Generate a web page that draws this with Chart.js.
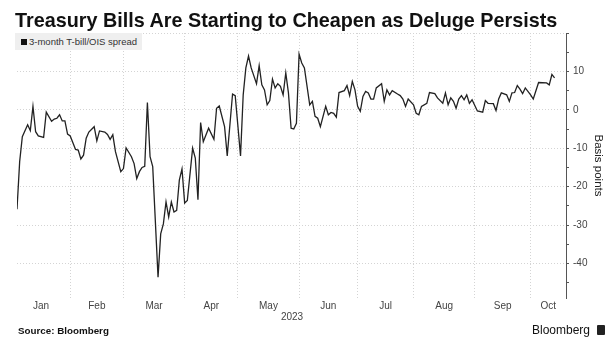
<!DOCTYPE html>
<html>
<head>
<meta charset="utf-8">
<script src="https://cdn.jsdelivr.net/npm/chart.js@4.4.0/dist/chart.umd.min.js"></script>
<style>
  html, body { margin: 0; padding: 0; background: #fff; }
  #wrap { position: relative; width: 616px; height: 347px; overflow: hidden; font-family: "Liberation Sans", Arial, sans-serif; }
  #chart { position: absolute; left: 0; top: 0; }
  #title { position: absolute; left: 15px; top: 9px; font-size: 19.8px; font-weight: bold; color: #111; white-space: nowrap; }
  #legend { position: absolute; left: 15px; top: 33px; width: 127px; height: 17px; background: #efefef; font-size: 9.5px; color: #333; line-height: 17px; white-space: nowrap; }
  #legend span.mark { display: inline-block; width: 6px; height: 6px; background: #111; margin: 0 2px 0 6px; vertical-align: 0px; }
  #year { position: absolute; left: 272px; top: 311px; width: 40px; text-align: center; font-size: 10px; color: #444; }
  #source { position: absolute; left: 18px; top: 325px; font-size: 9.8px; font-weight: bold; color: #111; }
  #brand { position: absolute; left: 532px; top: 323px; font-size: 12px; color: #111; }
  #logo { position: absolute; left: 597px; top: 325px; width: 8px; height: 10px; background: #222; border-radius: 1px; }
</style>
</head>
<body>
<div id="wrap">
  <canvas id="chart" width="616" height="347"></canvas>
  <div id="title"></div>
  <div id="legend"><span class="mark"></span><span id="legendText"></span></div>
  <div id="year"></div>
  <div id="source">Source: Bloomberg</div>
  <div id="brand">Bloomberg</div>
  <div id="logo"></div>
</div>
<script>
const chartTitle = 'Treasury Bills Are Starting to Cheapen as Deluge Persists';
const seriesName = '3-month T-bill/OIS spread';
const yearLabel = '2023';

// meses y posición (índice de día hábil) del primer día laborable de cada mes
const monthNames = ['Jan', 'Feb', 'Mar', 'Apr', 'May', 'Jun', 'Jul', 'Aug', 'Sep', 'Oct'];
const monthStarts = [0, 22, 42, 65, 85, 108, 130, 151, 174, 195];
const xStart = 2;
const xEnd = 208.3;

const yMajorTicks = [-40, -30, -20, -10, 0, 10, 20];
const yMinorTicks = [-45, -35, -25, -15, -5, 5, 15];
const yMin = -49;
const yMax = 20;

// índice de día hábil de cada observación (desde el 2 de enero)
const tradingDay = [
    2, 3, 4, 6, 7, 8, 9, 10, 12, 13, 15, 16, 17, 18, 19, 20, 21, 22, 24, 25,
    26, 27, 28, 29, 31, 32, 33, 35, 36, 37, 38, 39, 41, 42, 43, 45, 46, 47, 48, 49,
    50, 51, 52, 53, 55, 56, 57, 58, 59, 60, 61, 62, 63, 64, 65, 66, 68, 69, 70, 71,
    72, 74, 76, 77, 78, 80, 81, 83, 84, 86, 87, 88, 89, 90, 92, 93, 94, 95, 96, 97,
    98, 99, 100, 101, 102, 103, 104, 105, 106, 107, 108, 109, 110, 112, 113, 114, 115, 116, 118, 119,
    120, 121, 122, 123, 125, 126, 127, 128, 129, 130, 131, 132, 133, 134, 135, 136, 137, 139, 140, 141,
    142, 143, 145, 146, 147, 148, 149, 151, 152, 153, 154, 156, 157, 159, 160, 162, 163, 164, 165, 166,
    167, 168, 169, 170, 171, 172, 173, 175, 177, 178, 179, 181, 182, 183, 184, 186, 187, 188, 189, 190,
    191, 192, 193, 195, 196, 198, 201, 202, 203, 204
];

// diferencial en puntos básicos
const spread = [
    -25.9, -13.5, -7.0, -3.9, -5.4, 0.9, -5.7, -6.8, -7.2, -0.6, -3.0, -2.4, -2.2, -1.3, -2.9, -2.9, -6.3, -6.8, -10.3, -10.5,
    -12.8, -11.8, -7.4, -5.8, -4.4, -8.1, -5.5, -5.8, -6.4, -7.7, -6.5, -10.9, -16.1, -15.3, -9.9, -12.2, -14.0, -17.9, -16.1, -15.0,
    -14.7, 1.9, -12.2, -14.8, -43.6, -32.3, -29.7, -24.0, -27.9, -24.0, -26.6, -26.2, -18.3, -15.4, -24.3, -23.6, -10.0, -12.6, -23.4, -3.3,
    -8.3, -4.8, -7.7, 0.4, 1.0, -4.4, -12.0, 4.1, 3.7, -12.0, 3.9, 10.9, 14.0, 10.9, 6.8, 11.5, 6.5, 5.2, 1.3, 2.4,
    8.0, 5.7, 6.8, 6.1, 3.9, 9.6, 4.4, -4.8, -5.0, -3.5, 14.5, 12.2, 10.9, 1.3, 2.2, -1.7, -2.2, -4.4, 0.9, -1.3,
    -0.7, -0.9, -1.9, 4.5, 5.0, 6.3, 3.7, 7.4, 5.2, 0.9, -0.4, 3.5, 4.8, 4.4, 2.8, 2.8, 5.7, 6.8, 2.2, 5.2,
    3.9, 5.0, 4.1, 3.7, 2.8, 0.9, 2.8, 1.3, -0.9, -1.3, 0.9, 1.7, 4.5, 4.2, 3.1, 1.7, 4.4, 1.3, 3.1, 2.2,
    0.4, 2.8, 3.7, 2.6, 3.9, 1.7, 2.6, -0.3, -0.6, 2.4, 1.7, 1.6, -0.2, 2.8, 4.4, 3.9, 2.2, 4.4, 4.5, 6.3,
    5.4, 4.2, 5.7, 3.9, 2.8, 7.1, 7.0, 6.5, 9.2, 8.3
];

const gridColor = '#d4d4d4';
const axisColor = '#555';
const textColor = '#444';
const fontFamily = '"Liberation Sans", Arial, sans-serif';

document.getElementById('title').textContent = chartTitle;
document.getElementById('legendText').textContent = seriesName;
document.getElementById('year').textContent = yearLabel;

// posiciones de etiquetas: centro de cada mes visible
const labelPositions = monthStarts.map((start, i) => {
    const end = i + 1 < monthStarts.length ? monthStarts[i + 1] : xEnd;
    return (Math.max(start, 0) + end) / 2;
});
const gridStarts = monthStarts.filter(v => v > xStart);

function isMonthStart(value) {
    return gridStarts.includes(value);
}

function labelFor(value) {
    const idx = labelPositions.indexOf(value);
    return idx >= 0 ? monthNames[idx] : '';
}

const points = tradingDay.map((d, i) => ({ x: d, y: spread[i] }));

const ctx = document.getElementById('chart').getContext('2d');
new Chart(ctx, {
    type: 'line',
    data: {
        datasets: [{
            label: seriesName,
            data: points,
            borderColor: '#222',
            borderWidth: 1.3,
            pointRadius: 0,
            tension: 0,
            fill: false
        }]
    },
    options: {
        responsive: false,
        animation: false,
        devicePixelRatio: 1,
        layout: {
            padding: { left: 17, top: 33, right: 0, bottom: 0 }
        },
        plugins: {
            legend: { display: false },
            tooltip: { enabled: false }
        },
        scales: {
            x: {
                type: 'linear',
                min: xStart,
                max: xEnd,
                afterBuildTicks: (scale) => {
                    scale.ticks = [...gridStarts, ...labelPositions]
                        .sort((a, b) => a - b)
                        .map(v => ({ value: v }));
                },
                afterFit: (scale) => {
                    scale.height = 49;
                },
                grid: {
                    color: (c) => (c.tick && isMonthStart(c.tick.value)) ? gridColor : 'rgba(0,0,0,0)',
                    lineWidth: 1,
                    drawTicks: false
                },
                border: { display: false, dash: [1, 2] },
                ticks: {
                    autoSkip: false,
                    maxRotation: 0,
                    padding: 2,
                    color: textColor,
                    font: { family: fontFamily, size: 10 },
                    callback: (value) => labelFor(value)
                }
            },
            y: {
                type: 'linear',
                position: 'right',
                min: yMin,
                max: yMax,
                afterBuildTicks: (scale) => {
                    scale.ticks = [...yMajorTicks, ...yMinorTicks]
                        .sort((a, b) => a - b)
                        .map(v => ({ value: v }));
                },
                afterFit: (scale) => {
                    scale.width = 50;
                },
                grid: {
                    color: (c) => (c.tick && yMajorTicks.includes(c.tick.value)) ? gridColor : 'rgba(0,0,0,0)',
                    tickColor: axisColor,
                    tickLength: 3,
                    lineWidth: 1
                },
                border: { display: true, color: axisColor, width: 1, dash: [1, 2] },
                ticks: {
                    padding: 4,
                    color: textColor,
                    font: { family: fontFamily, size: 10 },
                    callback: (value) => (yMajorTicks.includes(value) && value !== yMax) ? String(value) : ''
                },
                title: {
                    display: true,
                    text: 'Basis points',
                    color: '#222',
                    font: { family: fontFamily, size: 11.5 },
                    padding: { top: 11, bottom: 0 }
                }
            }
        }
    }
});
</script>
</body>
</html>
